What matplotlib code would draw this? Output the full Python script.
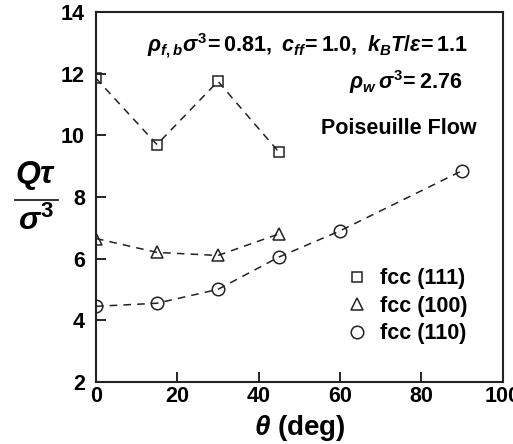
import numpy as np
import matplotlib.pyplot as plt

plt.rcParams['font.family'] = ['Liberation Sans', 'DejaVu Sans']
plt.rcParams['font.weight'] = 'bold'
plt.rcParams['mathtext.fontset'] = 'custom'
plt.rcParams['mathtext.rm'] = 'Liberation Sans:bold'
plt.rcParams['mathtext.it'] = 'Liberation Sans:bold:italic'
plt.rcParams['mathtext.bf'] = 'Liberation Sans:bold'

# data
theta_111 = [0, 15, 30, 45]
q_111 = [11.85, 9.7, 11.75, 9.45]
theta_100 = [0, 15, 30, 45]
q_100 = [6.65, 6.2, 6.1, 6.8]
theta_110 = [0, 15, 30, 45, 60, 90]
q_110 = [4.45, 4.55, 5.0, 6.05, 6.9, 8.85]
labels = ['fcc (111)', 'fcc (100)', 'fcc (110)']

fig = plt.figure(figsize=(5.13, 4.44), dpi=100)
ax = fig.add_axes([0.187, 0.14, 0.793, 0.833])

ln = dict(color='#222222', mfc='none', mec='#222222', lw=1.1, ls=(0, (5, 4)), mew=1.1)
ax.plot(theta_111, q_111, marker='s', ms=7.5, **ln)
ax.plot(theta_100, q_100, marker='^', ms=8.5, **ln)
ax.plot(theta_110, q_110, marker='o', ms=9, **ln)

# legend: markers only
h1, = ax.plot([], [], 's', mfc='none', mec='#222222', ms=7.5, mew=1.1)
h2, = ax.plot([], [], '^', mfc='none', mec='#222222', ms=8.5, mew=1.1)
h3, = ax.plot([], [], 'o', mfc='none', mec='#222222', ms=9, mew=1.1)
ax.legend([h1, h2, h3], labels, loc='lower right', bbox_to_anchor=(0.94, 0.073),
          frameon=False, fontsize=15.5, handletextpad=0.45, labelspacing=0.3,
          borderpad=0, handlelength=1.2)

ax.set_xlim(0, 100)
ax.set_ylim(2, 14)
ax.set_xticks(np.arange(0, 101, 20))
ax.set_yticks(np.arange(2, 15, 2))
ax.tick_params(direction='in', length=7, width=1.2, labelsize=15.5,
               top=False, right=False)
ax.tick_params(axis='x', pad=3)
ax.tick_params(axis='y', pad=8)
for s in ax.spines.values():
    s.set_linewidth(1.5)
    s.set_color('#222222')

ax.set_xlabel(r'$\theta$ (deg)', fontsize=20, fontweight='bold', labelpad=4)
fig.text(0.07, 0.568, r'$Q\tau$', fontsize=23, ha='center', va='bottom')
fig.text(0.07, 0.536, r'$\sigma^{3}$', fontsize=23, ha='center', va='top')
fig.add_artist(plt.Line2D([0.03, 0.113], [0.55, 0.55], color='#222222', lw=1.3))

ax.text(0.914, 0.91, r'$\rho_{f,b}\sigma^{3}\!= 0.81,\ c_{ff}\!= 1.0,\ k_BT/\varepsilon\!= 1.1$',
        transform=ax.transAxes, ha='right', va='center', fontsize=15.5)
ax.text(0.90, 0.81, r'$\rho_{w}\,\sigma^{3}\!= 2.76$', transform=ax.transAxes,
        ha='right', va='center', fontsize=15.5)
ax.text(0.936, 0.686, 'Poiseuille Flow', transform=ax.transAxes, ha='right',
        va='center', fontsize=15.5)

fig.savefig('out.png', dpi=100)
